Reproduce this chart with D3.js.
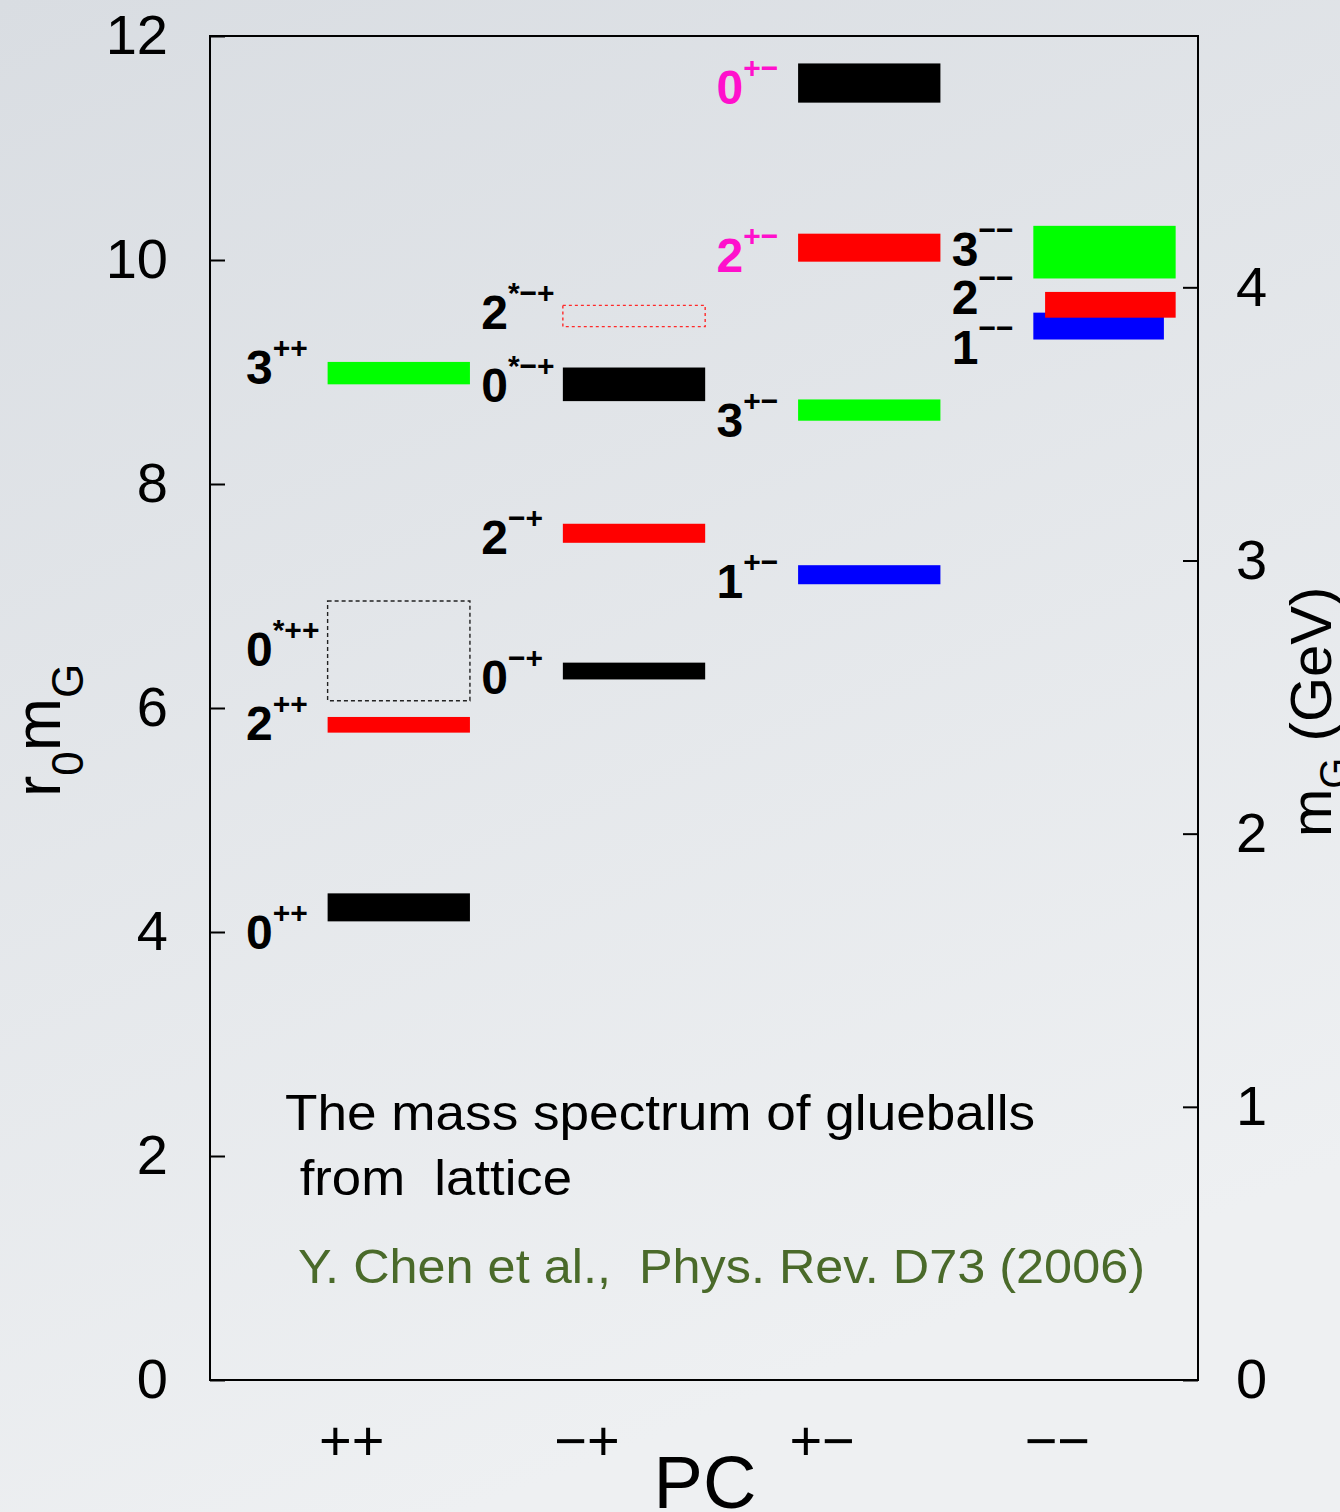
<!DOCTYPE html>
<html>
<head>
<meta charset="utf-8">
<script src="https://cdn.jsdelivr.net/npm/d3@7"></script>
<style>
  html, body { margin: 0; padding: 0; }
  body { width: 1340px; height: 1512px; overflow: hidden; }
  svg { display: block; font-family: "Liberation Sans", Arial, Helvetica, sans-serif; }
</style>
</head>
<body>
<svg id="chart" width="1340" height="1512"></svg>
<script>
// PC channels along the horizontal axis
const pcChannels = ["++", "−+", "+−", "−−"];

// Glueball states: spin J, PC channel, r0*m_G (central value), uncertainty,
// excited-state flag, and whether the state is only tentatively determined
const stateJ         = [0,    2,    0,    3,    0,    2,    0,    2,    1,    3,    2,     0,     1,    2,    3];
const statePC        = ["++", "++", "++", "++", "−+", "−+", "−+", "−+", "+−", "+−", "+−",  "+−",  "−−", "−−", "−−"];
const stateMass      = [4.22, 5.85, 6.51, 8.99, 6.33, 7.56, 8.89, 9.50, 7.19, 8.66, 10.11, 11.58, 9.41, 9.60, 10.07];
const stateErr       = [0.125,0.07, 0.445,0.10, 0.075,0.085,0.15, 0.095,0.085,0.095,0.125, 0.175, 0.12, 0.115,0.235];
const stateStar      = [false,false,true, false,false,false,true, true, false,false,false, false, false,false,false];
const stateTentative = [false,false,true, false,false,false,false,true, false,false,false, false, false,false,false];

// Left axis ticks (r0 m_G) and right axis ticks (GeV)
const leftMajorTicks = [0, 2, 4, 6, 8, 10, 12];
const leftMinorTicks = [1, 3, 5, 7, 9, 11];
const rightMajorTicks = [0, 1, 2, 3, 4];
const rightMinorTicks = [0.5, 1.5, 2.5, 3.5, 4.5];
const r0inv = 0.410; // GeV, conversion from r0*m_G to m_G

const noteLines = ["The mass spectrum of glueballs", " from  lattice"];
const citation = "Y. Chen et al.,  Phys. Rev. D73 (2006)";

// ---------------------------------------------------------------------------
const states = stateJ.map((J, i) => ({
  J, pc: statePC[i], mass: stateMass[i], err: stateErr[i],
  star: stateStar[i], tentative: stateTentative[i],
  key: J + (stateStar[i] ? "*" : "") + statePC[i]
}));

const svg = d3.select("#chart");
const W = 1340, H = 1512;
const plot = { left: 210, right: 1198, top: 36, bottom: 1380 };

// background
const defs = svg.append("defs");
const grad = defs.append("linearGradient").attr("id", "bg")
  .attr("x1", "0").attr("y1", "0").attr("x2", "0.35").attr("y2", "1");
grad.append("stop").attr("offset", "0").attr("stop-color", "#d9dde2");
grad.append("stop").attr("offset", "1").attr("stop-color", "#eef0f2");
svg.append("rect").attr("width", W).attr("height", H).attr("fill", "url(#bg)");

const y = d3.scaleLinear([0, 12], [plot.bottom, plot.top]);
const yG = d3.scaleLinear([0, 12 * r0inv], [plot.bottom, plot.top]);
const x = d3.scalePoint(pcChannels, [plot.left, plot.right]).padding(0.6);
const step = x.step();

const colorJ = d3.scaleOrdinal([0, 1, 2, 3], ["#000000", "#0000ff", "#ff0000", "#00ff00"]);

// exotic J^PC combinations are labelled in magenta
function isExotic(s) {
  if (s.pc === "+−") return s.J % 2 === 0;
  if (s.pc === "−−") return s.J === 0;
  if (s.pc === "−+") return s.J % 2 === 1;
  return false;
}

// bar extent within a channel, with small offsets where bars overlap
const barNudge = { "2−−": [0.05, 0], "1−−": [0, -0.05] };
function barX0(s) { return x(s.pc) - 0.10 * step + (barNudge[s.key] ? barNudge[s.key][0] * step : 0); }
function barX1(s) { return x(s.pc) + 0.505 * step + (barNudge[s.key] ? barNudge[s.key][1] * step : 0); }

// baseline offset (px) of each state's label from the bar centre
const labelDy = {
  "0++": 42, "2++": 15, "0*++": 15, "3++": 11,
  "0−+": 23, "2−+": 21, "0*−+": 18, "2*−+": 13,
  "1+−": 23, "3+−": 27, "2+−": 24, "0+−": 21,
  "1−−": 38, "2−−": 9, "3−−": 14
};

// axes
const tickFont = "56px";
const gl = svg.append("g").attr("transform", `translate(${plot.left},0)`);
gl.call(d3.axisLeft(y).tickValues(leftMinorTicks).tickSizeInner(-8).tickSizeOuter(0).tickFormat(""));
gl.call(d3.axisLeft(y).tickValues(leftMajorTicks).tickSizeInner(-15).tickSizeOuter(0).tickPadding(42));
const gr = svg.append("g").attr("transform", `translate(${plot.right},0)`);
gr.call(d3.axisRight(yG).tickValues(rightMinorTicks).tickSizeInner(-8).tickSizeOuter(0).tickFormat(""));
gr.call(d3.axisRight(yG).tickValues(rightMajorTicks).tickSizeInner(-15).tickSizeOuter(0).tickPadding(38).tickFormat(d3.format("d")));
[gl, gr].forEach(g => {
  g.selectAll("path.domain").remove();
  g.selectAll(".tick line").attr("stroke", "#000").attr("stroke-width", 2);
  g.selectAll(".tick text").attr("font-size", tickFont).attr("font-family", "Liberation Sans, Arial, sans-serif").attr("fill", "#000");
});

const gb = svg.append("g").attr("transform", `translate(0,${plot.bottom})`);
gb.call(d3.axisBottom(x).tickSize(0).tickPadding(40));
gb.select("path.domain").remove();
gb.selectAll(".tick text").attr("font-size", "56px").attr("font-family", "Liberation Sans, Arial, sans-serif").attr("fill", "#000");

// frame
svg.append("rect")
  .attr("x", plot.left).attr("y", plot.top)
  .attr("width", plot.right - plot.left).attr("height", plot.bottom - plot.top)
  .attr("fill", "none").attr("stroke", "#000").attr("stroke-width", 2);

// state bars (tentative states as dashed outlines)
const gs = svg.append("g");
gs.selectAll("rect.state").data(states.filter(s => !s.tentative)).join("rect")
  .attr("class", "state")
  .attr("x", barX0).attr("width", s => barX1(s) - barX0(s))
  .attr("y", s => y(s.mass + s.err)).attr("height", s => y(s.mass - s.err) - y(s.mass + s.err))
  .attr("fill", s => colorJ(s.J));
gs.selectAll("rect.tentative").data(states.filter(s => s.tentative)).join("rect")
  .attr("class", "tentative")
  .attr("x", barX0).attr("width", s => barX1(s) - barX0(s))
  .attr("y", s => y(s.mass + s.err)).attr("height", s => y(s.mass - s.err) - y(s.mass + s.err))
  .attr("fill", "none")
  .attr("stroke", s => s.J === 0 ? "#222" : "#ff2a2a")
  .attr("stroke-width", 1.4)
  .attr("stroke-dasharray", s => s.J === 0 ? "4,3" : "3,3");

// J^PC labels
const gt = svg.append("g").attr("font-weight", "bold");
gt.selectAll("text").data(states).join("text")
  .attr("x", s => x(s.pc) - 0.447 * step)
  .attr("y", s => y(s.mass) + labelDy[s.key])
  .attr("fill", s => isExotic(s) ? "#ff10cc" : "#000")
  .each(function (s) {
    const t = d3.select(this);
    t.append("tspan").attr("font-size", "48px").text(s.J);
    t.append("tspan").attr("font-size", "30px").attr("dy", -26)
      .text((s.star ? "*" : "") + s.pc);
  });

// axis titles
const lt = svg.append("text").attr("transform", "translate(60,797) rotate(-90)")
  .attr("font-size", "64px").attr("fill", "#000");
lt.append("tspan").text("r");
lt.append("tspan").attr("font-size", "44px").attr("dy", 23).text("0");
lt.append("tspan").attr("dy", -23).text("m");
lt.append("tspan").attr("font-size", "44px").attr("dy", 23).text("G");

const rt = svg.append("text").attr("transform", "translate(1331,837) rotate(-90)")
  .attr("font-size", "58px").attr("fill", "#000");
rt.append("tspan").text("m");
rt.append("tspan").attr("font-size", "40px").attr("dy", 17).text("G");
rt.append("tspan").attr("dy", -17).text(" (GeV)");

svg.append("text").attr("x", 705).attr("y", 1508).attr("text-anchor", "middle")
  .attr("font-size", "74px").attr("fill", "#000").text("PC");

// annotation
svg.append("text").attr("x", 285).attr("y", 1130).attr("font-size", "50px").attr("fill", "#000")
  .attr("textLength", 750).attr("lengthAdjust", "spacingAndGlyphs").text(noteLines[0]);
svg.append("text").attr("x", 285).attr("y", 1195).attr("font-size", "50px").attr("fill", "#000")
  .style("white-space", "pre")
  .attr("textLength", 287).attr("lengthAdjust", "spacingAndGlyphs").text(noteLines[1]);
svg.append("text").attr("x", 298).attr("y", 1283).attr("font-size", "49px").attr("fill", "#4a6a2a")
  .style("white-space", "pre")
  .attr("textLength", 847).attr("lengthAdjust", "spacingAndGlyphs").text(citation);
</script>
</body>
</html>
